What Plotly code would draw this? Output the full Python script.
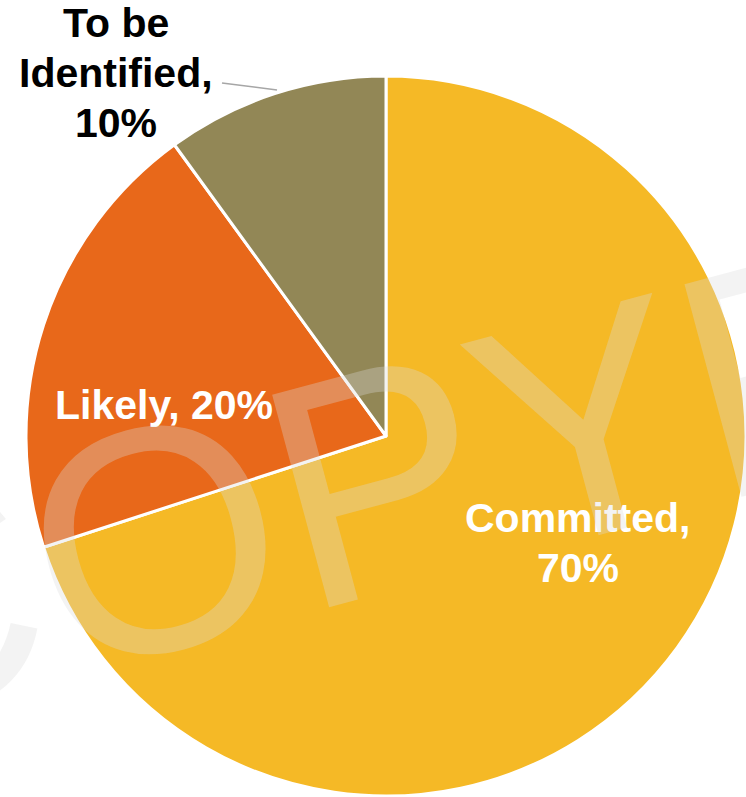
import textwrap
import plotly.graph_objects as go

# Funding status split
labels = ["Committed", "Likely", "To be Identified"]
values = [70, 20, 10]
colors = ["#F5B926", "#E8681A", "#928756"]

# Label styling per slice: text colour, wrap width (chars), centre x and first-line centre y (px)
label_color = ["#FFFFFF", "#FFFFFF", "#000000"]
label_wrap = [11, 20, 11]
label_pos = [(578, 518), (164, 405), (116, 23)]
LINE_STEP = 50
FONT = "Arial, Liberation Sans, sans-serif"

W, H = 746, 797
ML, MR, MT, MB = 26, 0, 76, 1
PW, PH = W - ML - MR, H - MT - MB


def to_paper(x, y):
    return (x - ML) / PW, (H - MB - y) / PH


fig = go.Figure(
    go.Pie(
        labels=labels,
        values=values,
        sort=False,
        direction="clockwise",
        rotation=0,
        marker=dict(colors=colors, line=dict(color="#FFFFFF", width=3)),
        textinfo="none",
        showlegend=False,
    )
)

annotations = []
for lab, val, col, wrap, (cx, cy) in zip(labels, values, label_color, label_wrap, label_pos):
    lines = textwrap.wrap(f"{lab}, {val}%", wrap)
    for i, line in enumerate(lines):
        px, py = to_paper(cx, cy + i * LINE_STEP)
        annotations.append(dict(
            x=px, y=py, xref="paper", yref="paper",
            text=f"<b>{line}</b>", showarrow=False,
            xanchor="center", yanchor="middle",
            font=dict(family=FONT, size=41, color=col),
        ))

# Watermark across the chart
wx, wy = to_paper(730, 385)
annotations.append(dict(
    x=wx, y=wy, xref="paper", yref="paper",
    text="COPYRIGHT", showarrow=False, textangle=-15,
    xanchor="center", yanchor="middle",
    font=dict(family=FONT, size=320, color="rgba(220,220,220,0.33)"),
))

# Leader line for the outside label
x0, y0 = to_paper(222, 83)
x1, y1 = to_paper(277, 90)
fig.add_shape(type="line", xref="paper", yref="paper", x0=x0, y0=y0, x1=x1, y1=y1,
              line=dict(color="#A6A6A6", width=1.5))

fig.update_layout(
    width=W, height=H,
    margin=dict(l=ML, r=MR, t=MT, b=MB),
    paper_bgcolor="#FFFFFF",
    plot_bgcolor="#FFFFFF",
    annotations=annotations,
)

fig.write_html("out.html")
